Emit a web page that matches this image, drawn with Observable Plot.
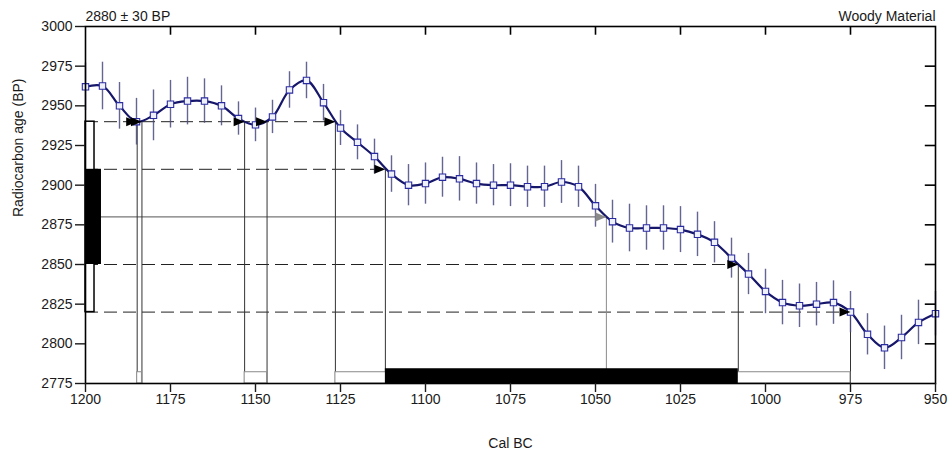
<!DOCTYPE html>
<html>
<head>
<meta charset="utf-8">
<script src="https://cdn.jsdelivr.net/npm/d3@7"></script>
<script src="https://cdn.jsdelivr.net/npm/@observablehq/plot@0.6"></script>
<style>
  body { margin: 0; background: #fff; }
  #chart svg { display: block; }
</style>
</head>
<body>
<div id="chart"></div>
<script>
// Calibration curve (IntCal-style), 5-year steps, Cal BC
const years = [1200, 1195, 1190, 1185, 1180, 1175, 1170, 1165, 1160, 1155,
               1150, 1145, 1140, 1135, 1130, 1125, 1120, 1115, 1110, 1105,
               1100, 1095, 1090, 1085, 1080, 1075, 1070, 1065, 1060, 1055,
               1050, 1045, 1040, 1035, 1030, 1025, 1020, 1015, 1010, 1005,
               1000, 995, 990, 985, 980, 975, 970, 965, 960, 955, 950];
const curveBP = [2962, 2962.5, 2950, 2940, 2944, 2951, 2953, 2953, 2950, 2942,
                 2938, 2943, 2960, 2966, 2952, 2936, 2927, 2918, 2907, 2900,
                 2901, 2905, 2904, 2901, 2900, 2900, 2899, 2899, 2902, 2899,
                 2887, 2877, 2873, 2873, 2873, 2872, 2869, 2864, 2854, 2844,
                 2833, 2826, 2824, 2825, 2826, 2820, 2806, 2797.5, 2804, 2813.5, 2819];
const curveErr = [15, 15, 14.7, 14.7, 16, 15, 15, 14, 12.6, 10.5,
                  10.6, 10.5, 11.5, 11.5, 11.5, 11, 11, 11, 11.5, 13,
                  13, 12.6, 14, 13, 13, 13.5, 13, 13, 13.5, 13,
                  13.5, 13.5, 15, 14, 14, 14.5, 14, 13, 12.6, 13,
                  14, 14, 13.7, 13.7, 13.7, 13, 13, 13.7, 14, 14, 14];

// Measured date
const sampleBP = 2880;
const sampleSigma = 30;

// Probability levels (BP) and the year where each meets the curve last
const levelBP   = [2940, 2910, 2880, 2850, 2820];
const levelEnd  = [1126.5, 1111.8, 1046.8, 1008, 975];
const levelKind = ["dash", "dash", "mid", "dash", "dash"];

// Intercepts with the curve
const crossYear = [1184.8, 1183.4, 1153.2, 1146.6, 1126.5, 1111.8, 1046.8, 1008, 975];
const crossBP   = [2940, 2940, 2940, 2940, 2940, 2910, 2880, 2850, 2820];

// Calibrated ranges (Cal BC)
const range2From = [1184.8, 1153.2, 1126.5];
const range2To   = [1183.4, 1146.6, 975];
const range1From = [1111.8];
const range1To   = [1008];

// Axis ticks
const xTicks = [1200, 1175, 1150, 1125, 1100, 1075, 1050, 1025, 1000, 975, 950];
const yTicks = [2775, 2800, 2825, 2850, 2875, 2900, 2925, 2950, 2975, 3000];

const cal = years.map((year, i) => ({year, bp: curveBP[i], err: curveErr[i]}));
const levels = levelBP.map((bp, i) => ({bp, end: levelEnd[i], kind: levelKind[i]}));
const crossings = crossYear.map((year, i) => ({year, bp: crossBP[i], mid: crossBP[i] === sampleBP}));
const ranges2 = range2From.map((a, i) => ({a, b: range2To[i]}));
const ranges1 = range1From.map((a, i) => ({a, b: range1To[i]}));

const xMin = 1200, xMax = 950, yMin = 2775, yMax = 3000;

// right-pointing arrow head with its tip on the anchor point
const arrowHead = {
  draw(ctx) {
    ctx.moveTo(0, 0);
    ctx.lineTo(-11, -4.5);
    ctx.lineTo(-11, 4.5);
    ctx.closePath();
  }
};

const chart = Plot.plot({
  width: 948,
  height: 454,
  marginTop: 26,
  marginBottom: 71,
  marginLeft: 85,
  marginRight: 13,
  style: {fontFamily: "'Liberation Sans', Arial, sans-serif", fontSize: "14px", color: "#1a1a1a", background: "#fff"},
  x: {domain: [xMin, xMax]},
  y: {domain: [yMin, yMax]},
  marks: [
    // level lines
    Plot.ruleY(levels.filter(d => d.kind === "dash"), {
      y: "bp", x1: xMin, x2: "end", stroke: "#222", strokeWidth: 1, strokeDasharray: "13,6"
    }),
    Plot.ruleY(levels.filter(d => d.kind === "mid"), {
      y: "bp", x1: xMin, x2: "end", stroke: "#777", strokeWidth: 1.2
    }),
    // drop lines from intercepts
    Plot.ruleX(crossings, {
      x: "year", y1: yMin, y2: "bp",
      stroke: d => d.mid ? "#8a8a8a" : "#333", strokeWidth: 1
    }),
    // calibrated ranges along the bottom
    Plot.rect(ranges2, {
      x1: "a", x2: "b", y1: yMin, y2: yMin + 7.1,
      fill: "white", stroke: "#8a8a8a", strokeWidth: 1
    }),
    Plot.rect(ranges1, {
      x1: "a", x2: "b", y1: yMin, y2: yMin + 9.3, fill: "black"
    }),
    // measured date: 2σ and 1σ boxes on the age axis
    Plot.rect([sampleBP], {
      x1: xMin, x2: xMin - 2.65,
      y1: d => d - 2 * sampleSigma, y2: d => d + 2 * sampleSigma,
      fill: "white", stroke: "black", strokeWidth: 1.5
    }),
    Plot.rect([sampleBP], {
      x1: xMin, x2: xMin - 4.7,
      y1: d => d - sampleSigma, y2: d => d + sampleSigma,
      fill: "black"
    }),
    // curve error bars
    Plot.ruleX(cal, {
      x: "year", y1: d => d.bp - d.err, y2: d => d.bp + d.err,
      stroke: "#4a4a80", strokeOpacity: 0.85, strokeWidth: 1.4
    }),
    // calibration curve
    Plot.line(cal, {x: "year", y: "bp", curve: "catmull-rom", stroke: "#16166a", strokeWidth: 2.2}),
    Plot.dot(cal, {
      x: "year", y: "bp", symbol: "square", r: 3.6,
      fill: "#eef0fa", stroke: "#2b2ba0", strokeWidth: 1.1
    }),
    // intercept arrows
    Plot.dot(crossings, {
      x: "year", y: "bp", symbol: arrowHead,
      fill: d => d.mid ? "#8a8a8a" : "black", stroke: "none"
    }),
    // frame and inner ticks
    Plot.frame({stroke: "black", strokeWidth: 1.6}),
    Plot.ruleX(xTicks.slice(1, -1), {x: d => d, y1: yMax, y2: yMax - 5.5, stroke: "black", strokeWidth: 1.6}),
    Plot.ruleY(yTicks.slice(1, -1), {y: d => d, x1: xMax, x2: xMax + 3, stroke: "black", strokeWidth: 1.6}),
    Plot.axisX({ticks: xTicks, tickSize: 9, tickPadding: 2, tickFormat: d => String(d), label: null, strokeWidth: 1.4}),
    Plot.axisY({ticks: yTicks, tickSize: 10, tickPadding: 3, tickFormat: d => String(d), label: null, strokeWidth: 1.4}),
    // labels
    Plot.text(["2880 ± 30 BP"], {frameAnchor: "top-left", lineAnchor: "middle", textAnchor: "start", dy: -10, fill: "#1a1a1a"}),
    Plot.text(["Woody Material"], {frameAnchor: "top-right", lineAnchor: "middle", textAnchor: "end", dy: -10, fill: "#1a1a1a"}),
    Plot.text(["Cal BC"], {frameAnchor: "bottom", lineAnchor: "middle", dy: 60, fill: "#1a1a1a"}),
    Plot.text(["Radiocarbon age (BP)"], {frameAnchor: "left", dx: -67, dy: 12, rotate: -90, fill: "#1a1a1a"})
  ]
});

document.getElementById("chart").append(chart);
</script>
</body>
</html>
